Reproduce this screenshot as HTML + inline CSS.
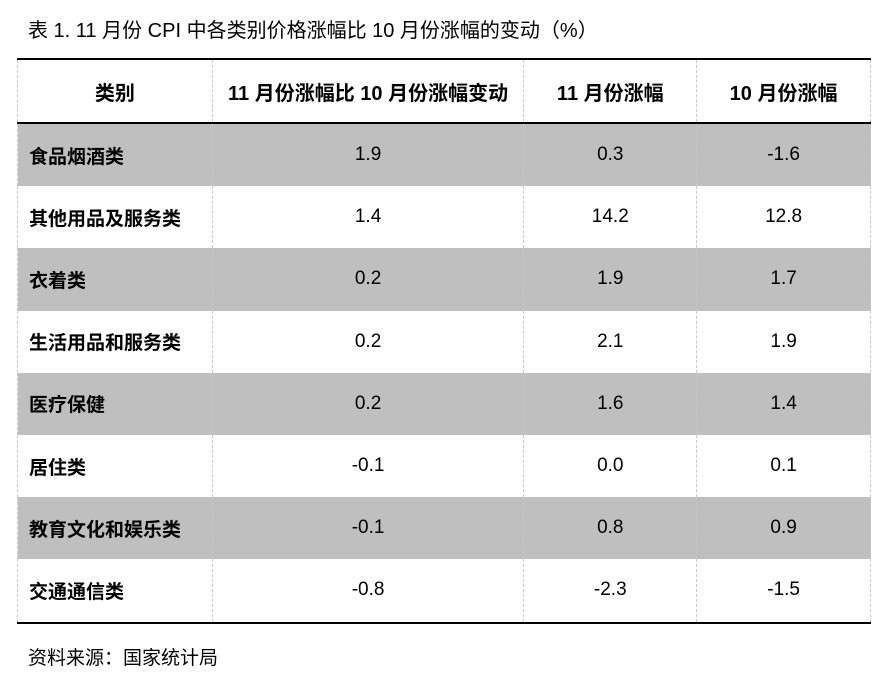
<!DOCTYPE html>
<html><head><meta charset="utf-8"><style>
body{margin:0;width:894px;height:678px;background:#fff;font-family:"Liberation Sans","Noto Sans CJK SC",sans-serif;color:#000;position:relative;overflow:hidden}
.t{position:absolute;left:28px;top:14px;font-size:20px}
.s{position:absolute;left:28px;top:643px;font-size:19px}
table{position:absolute;left:17px;top:58px;border-collapse:collapse;width:854px;font-size:19px}
td,th{border-left:1px dashed #c8c8c8;border-right:1px dashed #c8c8c8;padding:0;text-align:center}
th{height:62px;font-weight:bold;font-size:20px;border-top:2px solid #000;border-bottom:2px solid #000}
td{height:62.2px}
td:first-child{text-align:left;padding-left:11px;font-weight:bold}
tr.g td{background:#bfbfbf}
tr:last-child td{border-bottom:2px solid #000}
</style></head><body>
<div class="t">表 1. 11 月份 CPI 中各类别价格涨幅比 10 月份涨幅的变动（%）</div>
<table>
<colgroup><col style="width:195px"><col style="width:312px"><col style="width:173px"><col style="width:174px"></colgroup>
<tr><th>类别</th><th>11 月份涨幅比 10 月份涨幅变动</th><th>11 月份涨幅</th><th>10 月份涨幅</th></tr>
<tr class="g"><td>食品烟酒类</td><td>1.9</td><td>0.3</td><td>-1.6</td></tr>
<tr><td>其他用品及服务类</td><td>1.4</td><td>14.2</td><td>12.8</td></tr>
<tr class="g"><td>衣着类</td><td>0.2</td><td>1.9</td><td>1.7</td></tr>
<tr><td>生活用品和服务类</td><td>0.2</td><td>2.1</td><td>1.9</td></tr>
<tr class="g"><td>医疗保健</td><td>0.2</td><td>1.6</td><td>1.4</td></tr>
<tr><td>居住类</td><td>-0.1</td><td>0.0</td><td>0.1</td></tr>
<tr class="g"><td>教育文化和娱乐类</td><td>-0.1</td><td>0.8</td><td>0.9</td></tr>
<tr><td>交通通信类</td><td>-0.8</td><td>-2.3</td><td>-1.5</td></tr>
</table>
<div class="s">资料来源：国家统计局</div>
</body></html>
